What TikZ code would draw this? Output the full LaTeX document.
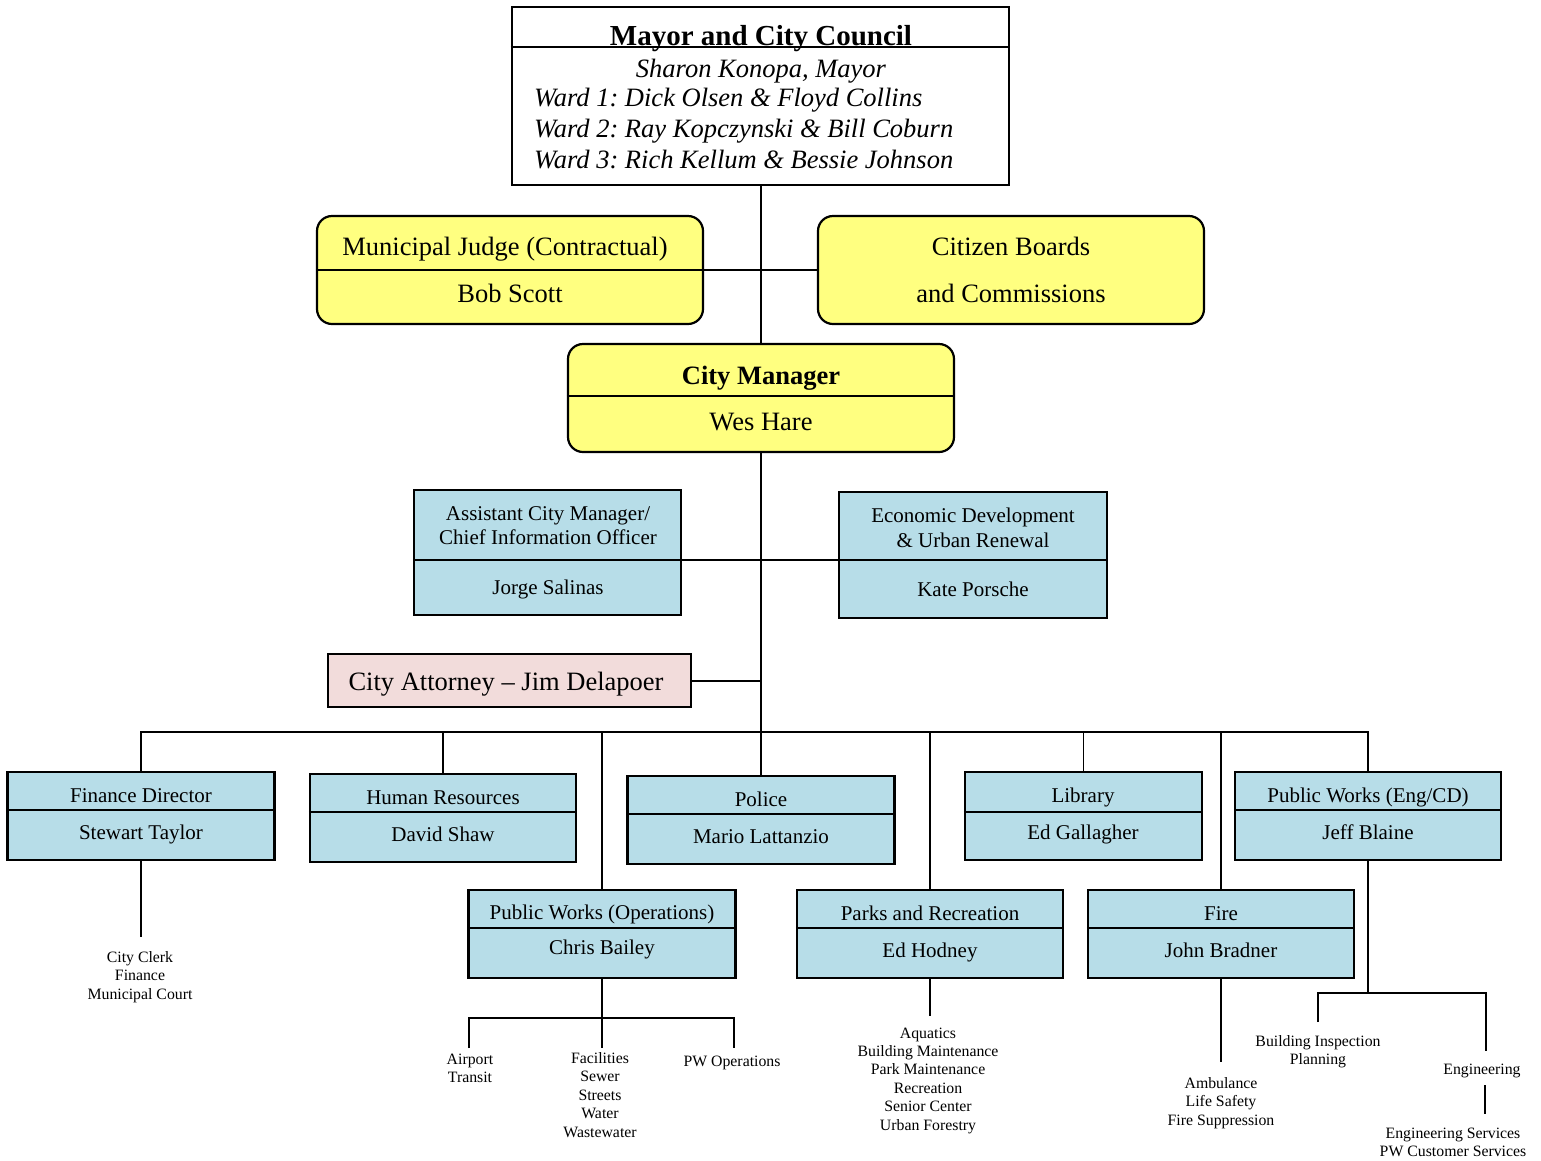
\documentclass[tikz,border=0pt]{standalone}
\usepackage{fontspec}
\setmainfont{Liberation Serif}
\frenchspacing
\definecolor{yel}{HTML}{FFFF80}
\definecolor{blu}{HTML}{B7DDE8}
\definecolor{pnk}{HTML}{F2DCDB}
\tikzset{
  boxy/.style={draw, line width=2.2pt, fill=yel, rounded corners=15pt, inner sep=0pt},
  boxb/.style={draw, line width=2.2pt, fill=blu, inner sep=0pt},
  boxp/.style={draw, line width=2.2pt, fill=pnk, inner sep=0pt},
  boxw/.style={draw, line width=2.8pt, fill=white, inner sep=0pt},
  ttl/.style={font=\bfseries\fontsize{29}{33}\selectfont, anchor=base, inner sep=0pt},
  itl/.style={font=\itshape\fontsize{26.5}{31}\selectfont, anchor=base, inner sep=0pt},
  big/.style={font=\fontsize{26.5}{31}\selectfont, anchor=base, inner sep=0pt},
  mid/.style={font=\fontsize{21}{25}\selectfont, anchor=base, inner sep=0pt},
  sml/.style={font=\fontsize{15.8}{18.5}\selectfont, anchor=base, inner sep=0pt},
  ln/.style={line width=2pt},
  thn/.style={line width=1.5pt},
  thk/.style={line width=2.6pt},
}
\begin{document}
\begin{tikzpicture}[x=1pt,y=-1pt]
\useasboundingbox[fill=white] (0,0) rectangle (1541,1160);

% ---- boxes ----
\node[boxw, minimum width=497pt, minimum height=178pt] (mayor) at (760.5,96) {};
\node[boxy, minimum width=386pt, minimum height=108pt] (judge) at (510,270) {};
\node[boxy, minimum width=386pt, minimum height=108pt] (citizen) at (1011,270) {};
\node[boxy, minimum width=386pt, minimum height=108pt] (cm) at (761,398) {};
\node[boxb, minimum width=267pt, minimum height=125pt] (asst) at (547.5,552.5) {};
\node[boxb, minimum width=268pt, minimum height=126pt] (econ) at (973,555) {};
\node[boxp, minimum width=363pt, minimum height=53pt] (att) at (509.5,680.5) {};
\node[boxb, minimum width=267pt, minimum height=88pt] (fin) at (141,816) {};
\node[boxb, minimum width=266pt, minimum height=88pt] (hr) at (443,818) {};
\node[boxb, minimum width=267pt, minimum height=88pt] (police) at (761,820) {};
\node[boxb, minimum width=237pt, minimum height=88pt] (lib) at (1083.5,816) {};
\node[boxb, minimum width=266pt, minimum height=88pt] (pweng) at (1368,816) {};
\node[boxb, minimum width=267pt, minimum height=88pt] (pwops) at (602,934) {};
\node[boxb, minimum width=266pt, minimum height=88pt] (parks) at (930,934) {};
\node[boxb, minimum width=266pt, minimum height=88pt] (fire) at (1221,934) {};

% ---- dividers ----
\draw[ln] (mayor.west |- 0,47) -- (mayor.east |- 0,47);
\draw[ln] (judge.west |- 0,270) -- (judge.east |- 0,270);
\draw[ln] (cm.west |- 0,396) -- (cm.east |- 0,396);
\draw[ln] (asst.west |- 0,560) -- (asst.east |- 0,560);
\draw[ln] (econ.west |- 0,560) -- (econ.east |- 0,560);
\draw[ln] (fin.west |- 0,810) -- (fin.east |- 0,810);
\draw[ln] (hr.west |- 0,812) -- (hr.east |- 0,812);
\draw[ln] (police.west |- 0,814) -- (police.east |- 0,814);
\draw[ln] (lib.west |- 0,812) -- (lib.east |- 0,812);
\draw[ln] (pweng.west |- 0,810) -- (pweng.east |- 0,810);
\draw[ln] (pwops.west |- 0,928) -- (pwops.east |- 0,928);
\draw[ln] (parks.west |- 0,928) -- (parks.east |- 0,928);
\draw[ln] (fire.west |- 0,928) -- (fire.east |- 0,928);

% ---- texts ----
\node[ttl] (mayor-t) at (761,45) {Mayor and City Council};
\node[itl] (mayor-m) at (761,77) {Sharon Konopa, Mayor};
\node[itl, anchor=base west] (mayor-w1) at (534,106) {Ward 1: Dick Olsen \& Floyd Collins};
\node[itl, anchor=base west] (mayor-w2) at (534,137) {Ward 2: Ray Kopczynski \& Bill Coburn};
\node[itl, anchor=base west] (mayor-w3) at (534,168) {Ward 3: Rich Kellum \& Bessie Johnson};

\node[big] (judge-t) at (505,255) {Municipal Judge (Contractual)};
\node[big] (judge-n) at (510,302) {Bob Scott};
\node[big] (cit-t1) at (1011,255) {Citizen Boards};
\node[big] (cit-t2) at (1011,302) {and Commissions};
\node[big, font=\bfseries\fontsize{26.5}{31}\selectfont] (cm-t) at (761,384) {City Manager};
\node[big] (cm-n) at (761,430) {Wes Hare};

\node[mid] (asst-t1) at (548,520) {Assistant City Manager/};
\node[mid] (asst-t2) at (548,544) {Chief Information Officer};
\node[mid] (asst-n) at (548,594) {Jorge Salinas};
\node[mid] (econ-t1) at (973,522) {Economic Development};
\node[mid] (econ-t2) at (973,547) {\& Urban Renewal};
\node[mid] (econ-n) at (973,596) {Kate Porsche};
\node[big] (att-t) at (506,690) {City Attorney -- Jim Delapoer};

\node[mid] (fin-t) at (141,802) {Finance Director};
\node[mid] (fin-n) at (141,839) {Stewart Taylor};
\node[mid] (hr-t) at (443,804) {Human Resources};
\node[mid] (hr-n) at (443,841) {David Shaw};
\node[mid] (police-t) at (761,806) {Police};
\node[mid] (police-n) at (761,843) {Mario Lattanzio};
\node[mid] (lib-t) at (1083,802) {Library};
\node[mid] (lib-n) at (1083,839) {Ed Gallagher};
\node[mid] (pweng-t) at (1368,802) {Public Works (Eng/CD)};
\node[mid] (pweng-n) at (1368,839) {Jeff Blaine};
\node[mid] (pwops-t) at (602,919) {Public Works (Operations)};
\node[mid] (pwops-n) at (602,954) {Chris Bailey};
\node[mid] (parks-t) at (930,920) {Parks and Recreation};
\node[mid] (parks-n) at (930,957) {Ed Hodney};
\node[mid] (fire-t) at (1221,920) {Fire};
\node[mid] (fire-n) at (1221,957) {John Bradner};

% ---- small texts ----
\foreach \t [count=\i] in {City Clerk, Finance, Municipal Court}
  \node[sml] (fins\i) at (140,{962+(\i-1)*18.5}) {\t};
\foreach \t [count=\i] in {Airport, Transit}
  \node[sml] (air\i) at (470,{1064+(\i-1)*18.3}) {\t};
\foreach \t [count=\i] in {Facilities, Sewer, Streets, Water, Wastewater}
  \node[sml] (fac\i) at (600,{1063+(\i-1)*18.5}) {\t};
\node[sml] (pwo1) at (732,1066) {PW Operations};
\foreach \t [count=\i] in {Aquatics, Building Maintenance, Park Maintenance, Recreation, Senior Center, Urban Forestry}
  \node[sml] (aq\i) at (928,{1038+(\i-1)*18.4}) {\t};
\foreach \t [count=\i] in {Ambulance, Life Safety, Fire Suppression}
  \node[sml] (amb\i) at (1221,{1088+(\i-1)*18.5}) {\t};
\node[sml] (bi1) at (1318,1046) {Building Inspection};
\node[sml] (bi2) at (1318,1064) {Planning};
\node[sml] (eng1) at (1482,1074) {Engineering};
\node[sml] (es1) at (1453,1138) {Engineering Services};
\node[sml] (es2) at (1453,1156) {PW Customer Services};

% ---- connectors ----
\coordinate (bus) at (0,732);
\coordinate (finend) at (141,937);
\coordinate (opsbus) at (0,1018);
\coordinate (opsA) at (469,1048);
\coordinate (opsB) at (602,1048);
\coordinate (opsC) at (734,1048);
\coordinate (parksend) at (930,1016);
\coordinate (fireend) at (1221,1062);
\coordinate (engbus) at (1368,993);
\coordinate (engL) at (1318,1022);
\coordinate (engR) at (1486,1051);
\coordinate (engT) at (1485,1085);
\coordinate (engB) at (1485,1114);

\draw[ln] (mayor.south -| cm.north) -- (cm.north);
\draw[ln] (judge.east) -- (citizen.west);
\draw[ln] (cm.south) -- (cm.south |- police.north);
\draw[ln] (asst.east |- 0,560) -- (econ.west |- 0,560);
\draw[ln] (att.east) -- (att.east -| cm.south);
\draw[thk] (fin.north) -- (fin.north |- bus) -- (pweng.north |- bus) -- (pweng.north);
\draw[ln] (hr.north) -- (hr.north |- bus);
\draw[thn] (pwops.north) -- (pwops.north |- bus);
\draw[thn] (parks.north) -- (parks.north |- bus);
\draw[thn] (lib.north) -- (lib.north |- bus);
\draw[thn] (fire.north) -- (fire.north |- bus);

\draw[ln] (fin.south) -- (fin.south |- finend);
\draw[ln] (pwops.south) -- (opsB);
\draw[ln] (opsA) -- (opsA |- opsbus) -- (opsC |- opsbus) -- (opsC);
\draw[ln] (parks.south) -- (parksend);
\draw[ln] (fire.south) -- (fireend);
\draw[ln] (pweng.south) -- (engbus);
\draw[ln] (engL) -- (engL |- engbus) -- (engR |- engbus) -- (engR);
\draw[ln] (engT) -- (engB);
\end{tikzpicture}
\end{document}
